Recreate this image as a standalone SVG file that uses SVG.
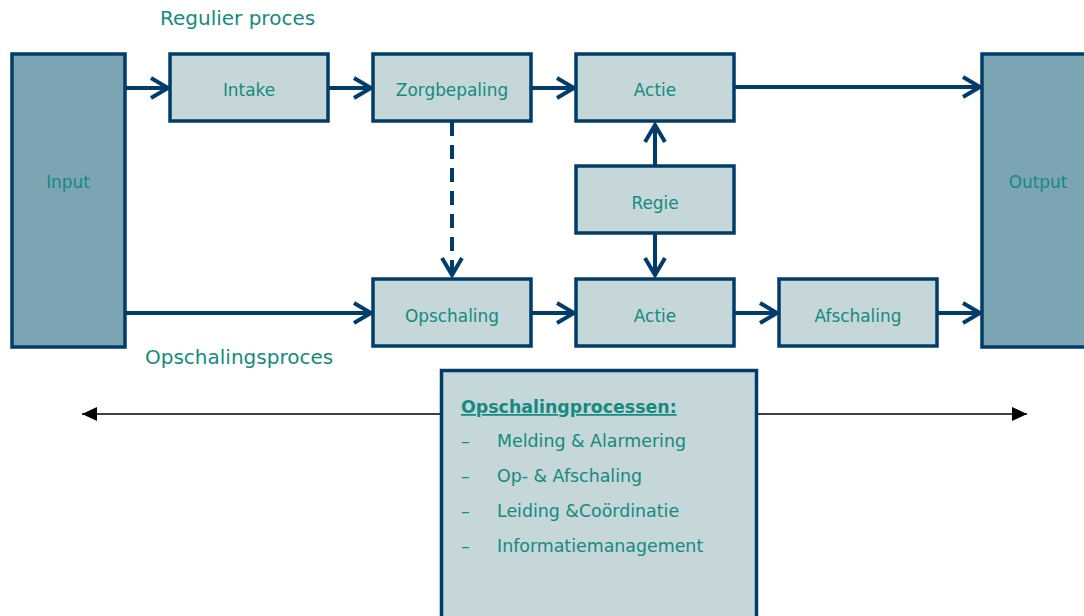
<svg xmlns="http://www.w3.org/2000/svg" width="1084" height="616" viewBox="0 0 1084 616">
<style>
.box{fill:#c5d7d8;stroke:#003d6b;stroke-width:3.5}
.io{fill:#7ca5b4;stroke:#003d6b;stroke-width:3.5}
.lbl{font-family:"DejaVu Sans",Verdana,sans-serif;font-size:16.9px;fill:#148a80;text-anchor:middle}
.ttl{font-family:"DejaVu Sans",Verdana,sans-serif;font-size:20px;fill:#148a80}
.lst{font-family:"DejaVu Sans",Verdana,sans-serif;font-size:17.4px;fill:#148a80}
.con{stroke:#003d6b;stroke-width:4;fill:none}
</style>
<defs>
<marker id="chev" markerUnits="userSpaceOnUse" viewBox="0 0 22 24" refX="19" refY="12" markerWidth="22" markerHeight="24" orient="auto">
<path d="M2,2 L19,12 L2,22" fill="none" stroke="#003d6b" stroke-width="4"/>
</marker>
<marker id="tri" markerUnits="userSpaceOnUse" viewBox="0 0 16 14" refX="15" refY="7" markerWidth="16" markerHeight="14" orient="auto-start-reverse">
<path d="M0,0 L15,7 L0,14 Z" fill="#000"/>
</marker>
</defs>
<text class="ttl" x="160" y="25">Regulier proces</text>
<text class="ttl" x="145" y="364">Opschalingsproces</text>
<g id="span">
<line x1="82" y1="414" x2="1027" y2="414" stroke="#000" stroke-width="1.5" marker-start="url(#tri)" marker-end="url(#tri)"/>
</g>
<g id="connectors">
<line class="con" x1="125" y1="88" x2="168" y2="88" marker-end="url(#chev)"/>
<line class="con" x1="328" y1="88" x2="371" y2="88" marker-end="url(#chev)"/>
<line class="con" x1="531" y1="88" x2="574" y2="88" marker-end="url(#chev)"/>
<line class="con" x1="734" y1="87" x2="980" y2="87" marker-end="url(#chev)"/>
<line class="con" x1="125" y1="313" x2="371" y2="313" marker-end="url(#chev)"/>
<line class="con" x1="531" y1="313" x2="574" y2="313" marker-end="url(#chev)"/>
<line class="con" x1="734" y1="313" x2="777" y2="313" marker-end="url(#chev)"/>
<line class="con" x1="937" y1="313" x2="980" y2="313" marker-end="url(#chev)"/>
<line class="con" x1="452" y1="122" x2="452" y2="275" stroke-dasharray="14 9" marker-end="url(#chev)"/>
<line class="con" x1="655" y1="166" x2="655" y2="125" marker-end="url(#chev)"/>
<line class="con" x1="655" y1="233" x2="655" y2="275" marker-end="url(#chev)"/>
</g>
<g id="input"><rect class="io" x="12" y="54" width="113" height="293"/><text class="lbl" x="68" y="188">Input</text></g>
<g id="output"><rect class="io" x="982" y="54" width="120" height="293"/><text class="lbl" x="1038" y="188">Output</text></g>
<g id="intake"><rect class="box" x="170" y="54" width="158" height="67"/><text class="lbl" x="249" y="96">Intake</text></g>
<g id="zorgbepaling"><rect class="box" x="373" y="54" width="158" height="67"/><text class="lbl" x="452" y="96">Zorgbepaling</text></g>
<g id="actie1"><rect class="box" x="576" y="54" width="158" height="67"/><text class="lbl" x="655" y="96">Actie</text></g>
<g id="regie"><rect class="box" x="576" y="166" width="158" height="67"/><text class="lbl" x="655" y="209">Regie</text></g>
<g id="opschaling"><rect class="box" x="373" y="279" width="158" height="67"/><text class="lbl" x="452" y="322">Opschaling</text></g>
<g id="actie2"><rect class="box" x="576" y="279" width="158" height="67"/><text class="lbl" x="655" y="322">Actie</text></g>
<g id="afschaling"><rect class="box" x="779" y="279" width="158" height="67"/><text class="lbl" x="858" y="322">Afschaling</text></g>
<g id="processen">
<rect class="box" x="441.5" y="370.5" width="315" height="260"/>
<text class="lst" x="461" y="413" font-weight="bold" text-decoration="underline">Opschalingprocessen:</text>
<text class="lst" x="461" y="447">–</text><text class="lst" x="497" y="447">Melding &amp; Alarmering</text>
<text class="lst" x="461" y="482">–</text><text class="lst" x="497" y="482">Op- &amp; Afschaling</text>
<text class="lst" x="461" y="517">–</text><text class="lst" x="497" y="517">Leiding &amp;Coördinatie</text>
<text class="lst" x="461" y="552">–</text><text class="lst" x="497" y="552">Informatiemanagement</text>
</g>
</svg>
